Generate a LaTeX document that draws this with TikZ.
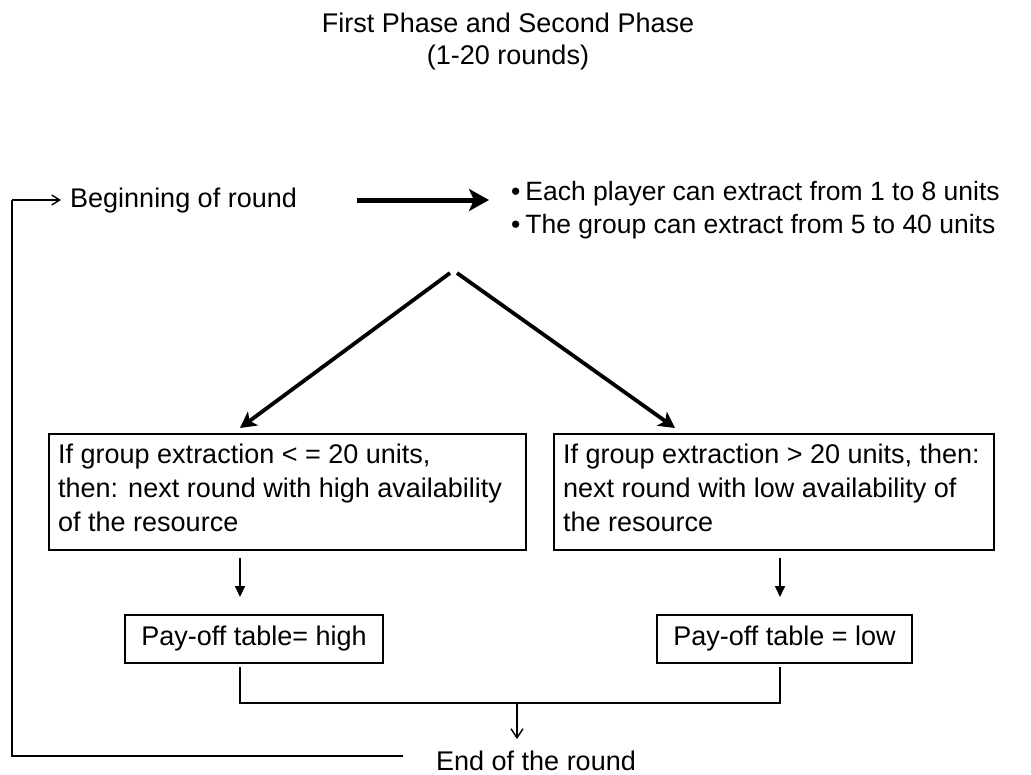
\documentclass[tikz,border=0pt]{standalone}
\usepackage{fontspec}
\setmainfont{Liberation Sans}
\usetikzlibrary{arrows.meta,calc}
\begin{document}
\begin{tikzpicture}[x=1pt,y=-1pt,
  txt/.style={inner sep=0pt,font=\fontsize{27}{33}\selectfont},
  boxframe/.style={draw,line width=1.8pt,inner sep=0pt,anchor=north west},
  paybox/.style={draw,line width=1.8pt,minimum height=48pt,inner sep=0pt,font=\fontsize{27}{30}\selectfont},
  thin/.style={line width=1.6pt},
  thick arrow/.style={line width=5pt,-{Stealth[length=20pt,width=22pt,inset=5pt]}},
  diag arrow/.style={line width=3.8pt,-{Stealth[length=16pt,width=17pt,inset=4pt]}},
  small arrow/.style={line width=1.6pt,-{Triangle[length=11pt,width=10pt]}},
  open arrow/.style={line width=1.4pt,-{Straight Barb[length=9pt,width=12pt]}},
  loop arrow/.style={line width=1.4pt,-{Straight Barb[length=8pt,width=10pt]}}]
\useasboundingbox (0,0) rectangle (1031,774);
% title
\node[txt,anchor=base] (title1) at (508,32.5) {First Phase and Second Phase};
\node[txt,anchor=base] (title2) at (508,64.5) {(1-20 rounds)};
% beginning
\node[txt,anchor=base west] (begin) at (70,207.5) {Beginning of round};
% bullets
\node[txt,anchor=base west,font=\fontsize{26.5}{33}\selectfont] (bul1) at (511,200) {\textbullet\hspace{5pt}Each player can extract from 1 to 8 units};
\node[txt,anchor=base west,font=\fontsize{26.5}{33}\selectfont] (bul2) at (511,233.5) {\textbullet\hspace{5pt}The group can extract from 5 to 40 units};
% upper boxes
\node[boxframe,minimum width=477pt,minimum height=116pt] (lbox) at (48,433) {};
\node[txt,anchor=base west] (lt1) at (58,463) {If group extraction < = 20 units,};
\node[txt,anchor=base west] (lt2) at (58,497) {then: next round with high availability};
\node[txt,anchor=base west] (lt3) at (58,531) {of the resource};
\node[boxframe,minimum width=440pt,minimum height=116pt] (rbox) at (553,433) {};
\node[txt,anchor=base west] (rt1) at (563,463) {If group extraction > 20 units, then:};
\node[txt,anchor=base west] (rt2) at (563,497) {next round with low availability of};
\node[txt,anchor=base west] (rt3) at (563,531) {the resource};
% pay-off boxes
\node[paybox,minimum width=258pt] (phigh) at (254,639) {Pay-off table= high};
\node[paybox,minimum width=255pt] (plow) at (784.5,639) {Pay-off table = low};
\node[txt,anchor=base] (end) at (536,770) {End of the round};
% coordinates
\coordinate (ta) at (357,200);
\coordinate (tb) at (489,200);
\coordinate (split) at (453.5,273);
\coordinate (ltip) at (240,428);
\coordinate (rtip) at (675,428);
\coordinate (la) at (240,558);
\coordinate (lb) at (240,597);
\coordinate (ra) at (780,558);
\coordinate (rb) at (780,597);
\coordinate (hl) at (240,667);
\coordinate (hr) at (780,667);
\coordinate (jl) at (240,703);
\coordinate (jr) at (780,703);
\coordinate (jm) at (517,703);
\coordinate (jend) at (517,739);
\coordinate (loopa) at (403,756);
\coordinate (loopb) at (12,756);
\coordinate (loopc) at (12,200);
\coordinate (loopd) at (61,200);
% connectors
\draw[thick arrow] (ta) -- (tb);
\draw[diag arrow] ($(split)+(-3.5,0)$) -- (ltip);
\draw[diag arrow] ($(split)+(3.5,0)$) -- (rtip);
\draw[small arrow] (la) -- (lb);
\draw[small arrow] (ra) -- (rb);
\draw[thin] (hl) -- (jl) -- (jr) -- (hr);
\draw[open arrow] (jm) -- (jend);
\draw[thin] (loopa) -- (loopb) -- (loopc);
\draw[loop arrow] (loopc) -- (loopd);
\end{tikzpicture}
\end{document}
